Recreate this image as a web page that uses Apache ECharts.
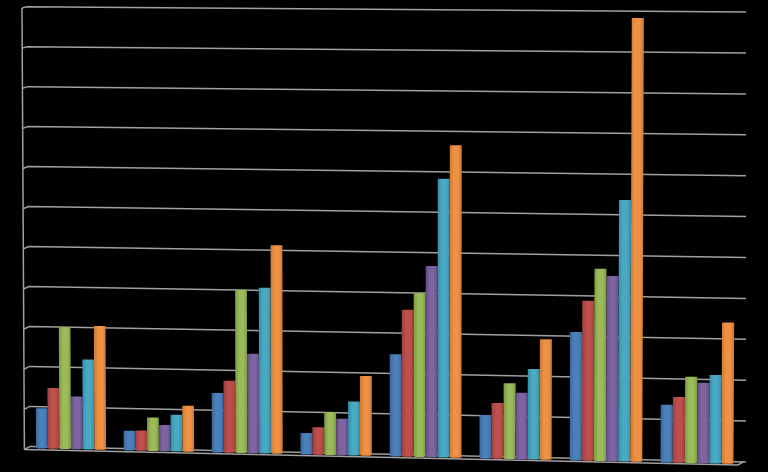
<!DOCTYPE html>
<html>
<head>
<meta charset="utf-8">
<style>html,body{margin:0;padding:0;background:#000}#c{width:768px;height:472px;filter:blur(0.6px)}</style>
<script src="https://cdn.jsdelivr.net/npm/echarts@6/dist/echarts.min.js"></script>
</head>
<body>
<div id="c"></div>
<script>
const categories = ['1','2','3','4','5','6','7','8'];
const yTicks = [0,1,2,3,4,5,6,7,8,9,10,11];
const seriesA = [1.00,0.49,1.47,0.53,2.52,1.07,3.15,1.41];
const seriesB = [1.51,0.50,1.78,0.68,3.62,1.37,3.92,1.61];
const seriesC = [3.04,0.83,4.04,1.06,4.04,1.86,4.71,2.11];
const seriesD = [1.31,0.65,2.46,0.90,4.71,1.63,4.54,1.97];
const seriesE = [2.24,0.91,4.10,1.33,6.86,2.22,6.40,2.16];
const seriesF = [3.08,1.14,5.16,1.97,7.69,2.96,10.86,3.45];
const allSeries = [seriesA,seriesB,seriesC,seriesD,seriesE,seriesF];
const colors = [
  ['#3a669c','#4c80bb'],
  ['#9a413e','#bd4f4c'],
  ['#7c9a43','#9bba59'],
  ['#624a83','#7f64a2'],
  ['#338ca6','#49a9c3'],
  ['#cb7831','#ee9144']
];

// Perspective of the 3D view: applied to positions that come from the axes.
const GRID = {left:26.4, top:6, width:714.4, height:440};
const scaleAt = x => 40.1 + 0.00125*(x-27);
const wallScale = x => 39.97 + 0.0013*(x-30);
const barBase = x => 448.3 + 0.0225*(x-36);
const wallBase = x => 446.4 + 0.0218*(x-30);
const bend = x => x + 3.26e-5*(x-71)*(x-655);
const barWidth = x => 11.67 + 0.0008*(x-71);
const lean = x => -0.0054 + 0.0000146*(x-24);
const toUnits = py => (GRID.top+GRID.height-py)/40;

const chart = echarts.init(document.getElementById('c'), null, {renderer:'canvas'});

function wallItem(params, api){
  const v = toUnits(api.coord([0, api.value(0)])[1]);
  const stroke = '#a0a0a0';
  const lw = 1.5;
  const xL = 30 - 3*v/11, xR = 746;
  const yL = wallBase(xL) - v*wallScale(xL), yR = wallBase(xR) - v*wallScale(xR);
  const ax = 24.4 - 2.4*v/11, ay = 449.5 - 441.5*v/11;
  const kids = [
    {type:'polyline', shape:{points:[[ax,ay],[xL,yL],[xR,yR]]}, style:{stroke, lineWidth:lw, fill:null}}
  ];
  if (v === 0){
    kids.push({type:'polyline', shape:{points:[[24.4,449.5],[738,465],[743.5,461.7]]}, style:{stroke, lineWidth:lw, fill:null}});
    kids.push({type:'line', shape:{x1:24.4,y1:449.5,x2:22,y2:8}, style:{stroke, lineWidth:lw}});
  }
  return {type:'group', children:kids};
}

function barItem(k){
  return function(params, api){
    const i = api.value(0), val = api.value(1);
    const p = api.coord([i, val]);
    const center = bend(p[0]);
    const w = barWidth(center);
    const x0 = center + (k-3)*w, x1 = center + (k-2)*w;
    const xc = (x0+x1)/2;
    const base = barBase(xc);
    const h = toUnits(p[1])*scaleAt(xc);
    const top = base - h;
    const dx = lean(xc)*h;
    const c = colors[k];
    return {
      type:'polygon',
      shape:{points:[[x0+dx,top],[x1+dx,top],[x1,base-0.6],[x1-1.5,base],[x0+1.5,base],[x0,base-0.6]]},
      style:{fill:new echarts.graphic.LinearGradient(0,0,1,0,[
        {offset:0,color:c[0]},{offset:0.35,color:c[1]},{offset:0.7,color:c[1]},{offset:1,color:c[0]}
      ])}
    };
  };
}

chart.setOption({
  animation:false,
  backgroundColor:'#000',
  grid:GRID,
  xAxis:{type:'category', data:categories, show:false},
  yAxis:{type:'value', min:0, max:11, interval:1, show:false},
  series:[
    {type:'custom', z:1, clip:false, renderItem:wallItem, encode:{y:0}, data:yTicks.map(v=>[v])}
  ].concat(allSeries.map((vals,k)=>({
    type:'custom', z:2+k, clip:false, renderItem:barItem(k), encode:{x:0,y:1},
    data:vals.map((v,i)=>[i,v])
  })))
});
</script>
</body>
</html>
